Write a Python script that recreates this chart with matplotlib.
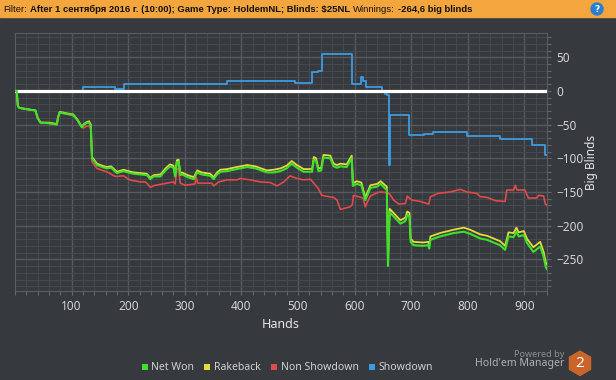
import matplotlib
matplotlib.use("Agg")
import matplotlib.pyplot as plt
from matplotlib import font_manager
from matplotlib.patches import Rectangle, RegularPolygon, Circle
from matplotlib.lines import Line2D
from matplotlib.ticker import MultipleLocator, FixedLocator

W, H = 616, 380
BG = '#36393d'
GREEN = '#3ee02c'
YELLOW = '#e3dc3a'
RED = '#e04a4a'
BLUE = '#3d9be0'
ORANGE = '#f3a63e'
FONT = 'Noto Sans'

# net won (green)
hands_net = [
    0, 3, 5, 7, 20, 36, 40, 45, 60, 74,
    76, 79, 90, 103, 110, 118, 122, 127, 131, 134,
    136, 145, 151, 162, 170, 180, 192, 200, 210, 222,
    233, 239, 245, 257, 266, 274, 280, 283, 286, 289,
    292, 295, 305, 316, 322, 330, 345, 351, 357, 363,
    375, 386, 398, 410, 425, 445, 457, 469, 480, 489,
    498, 510, 525, 528, 532, 536, 541, 545, 557, 563,
    569, 575, 586, 595, 597, 604, 612, 619, 628, 640,
    646, 654, 657, 659, 662, 672, 681, 690, 693, 697,
    699, 704, 721, 730, 732, 734, 751, 775, 793, 804,
    822, 834, 857, 866, 872, 881, 886, 890, 899, 905,
    916, 928, 934, 938, 940,
]
net_won = [
    0, 0, -22, -25, -27, -29, -40, -47, -48, -50,
    -40, -32, -34, -36, -43, -54, -50, -47, -47, -52,
    -100, -110, -112, -115, -114, -122, -119, -121, -123, -124,
    -125, -131, -127, -127, -118, -112, -114, -127, -106, -105,
    -125, -124, -128, -131, -121, -124, -126, -131, -124, -120,
    -119, -117, -115, -113, -115, -121, -121, -119, -115, -108,
    -114, -120, -120, -102, -104, -119, -118, -99, -100, -112,
    -114, -112, -113, -100, -141, -138, -140, -162, -144, -142,
    -138, -145, -147, -260, -180, -189, -197, -193, -184, -186,
    -224, -229, -230, -229, -234, -221, -216, -211, -209, -212,
    -219, -221, -229, -236, -216, -217, -209, -216, -214, -226,
    -239, -231, -246, -262, -264.6,
]
# net won + rakeback (yellow), same hands
rakeback = [
    0, 0, -22, -25, -27, -29, -40, -47, -47, -49,
    -39, -31, -33, -35, -42, -53, -49, -46, -45, -50,
    -98, -108, -110, -113, -112, -120, -117, -119, -121, -122,
    -123, -129, -125, -124, -115, -109, -111, -124, -103, -102,
    -122, -121, -125, -128, -118, -121, -123, -128, -121, -117,
    -116, -114, -112, -110, -112, -118, -117, -115, -111, -104,
    -110, -116, -116, -98, -100, -115, -114, -95, -96, -108,
    -110, -108, -109, -96, -137, -134, -136, -158, -140, -138,
    -134, -140, -142, -255, -175, -184, -192, -188, -179, -181,
    -219, -224, -225, -224, -229, -216, -211, -206, -203, -206,
    -213, -215, -223, -230, -210, -211, -203, -210, -208, -220,
    -232, -224, -239, -255, -257.6,
]

# non showdown (red)
hands_ns = [
    0, 3, 5, 7, 20, 36, 40, 45, 60, 74,
    76, 79, 90, 103, 110, 118, 122, 127, 131, 134,
    136, 145, 151, 162, 177, 192, 200, 207, 221, 230,
    233, 239, 248, 262, 280, 283, 286, 289, 292, 301,
    318, 320, 323, 348, 351, 360, 375, 392, 398, 416,
    433, 451, 463, 475, 486, 498, 510, 522, 528, 536,
    542, 554, 563, 569, 575, 592, 596, 598, 615, 619,
    622, 628, 640, 645, 657, 662, 669, 678, 690, 693,
    701, 716, 731, 734, 748, 769, 787, 798, 816, 822,
    834, 849, 866, 869, 881, 884, 887, 901, 907, 922,
    925, 934, 937, 940,
]
non_showdown = [
    0, 0, -22, -25, -27, -29, -40, -47, -48, -50,
    -40, -32, -34, -36, -43, -54, -55, -52, -52, -57,
    -105, -115, -117, -120, -127, -126, -131, -133, -135, -135,
    -137, -143, -140, -138, -135, -138, -117, -115, -137, -140,
    -138, -128, -137, -137, -141, -135, -132, -132, -130, -132,
    -135, -136, -141, -135, -126, -130, -132, -131, -137, -145,
    -155, -157, -158, -162, -176, -172, -169, -155, -159, -172,
    -166, -156, -151, -150, -151, -153, -162, -168, -167, -156,
    -162, -164, -168, -157, -152, -150, -146, -150, -152, -157,
    -158, -163, -164, -147, -147, -140, -147, -147, -159, -159,
    -155, -156, -168, -170,
]

# showdown (blue), step changes
hands_sd = [0, 121, 177, 192, 375, 495, 525, 535, 543, 595, 612, 615, 620,
            648, 654, 658, 660, 662, 697, 722, 738, 798, 857, 913, 936, 940]
showdown = [0, 5.5, 3.5, 10.4, 15, 12, 28, 30, 55, 11, 20, 15, 6.5,
            -1, -4.5, -6, -110, -36, -66, -64.5, -61, -67, -71, -81, -95, -95]

x_ticks = [100, 200, 300, 400, 500, 600, 700, 800, 900]
series_names = ['Net Won', 'Rakeback', 'Non Showdown', 'Showdown']
header_parts = [
    ("Filter:", 'normal'),
    ("After 1 сентября 2016 г. (10:00); Game Type: HoldemNL; Blinds: $25NL", 'bold'),
    ("Winnings:", 'normal'),
    ("-264,6 big blinds", 'bold'),
]

installed = {f.name for f in font_manager.fontManager.ttflist}
HFONT = 'Liberation Sans Narrow' if 'Liberation Sans Narrow' in installed else 'Liberation Sans'

fig = plt.figure(figsize=(W / 100, H / 100), dpi=100, facecolor=BG)
ax = fig.add_axes([15 / W, 1 - 291 / H, (547 - 15) / W, (291 - 33) / H])
ax.set_facecolor(BG)

ax.step(hands_sd, showdown, where='post', color=BLUE, lw=1.3, zorder=3)
ax.axhline(0, color='white', lw=2.3, zorder=4)
ax.plot(hands_ns, non_showdown, color=RED, lw=1.2, zorder=5)
ax.plot(hands_net, rakeback, color=YELLOW, lw=1.3, zorder=6)
ax.plot(hands_net, net_won, color=GREEN, lw=1.5, zorder=7)

ax.set_xlim(0, 940)
ax.set_ylim(-297, 86)
ax.xaxis.set_major_locator(FixedLocator(x_ticks))
ax.xaxis.set_minor_locator(MultipleLocator(20))
ax.yaxis.set_major_locator(MultipleLocator(50))
ax.yaxis.set_minor_locator(MultipleLocator(10))
ax.grid(which='major', color='#56595d', lw=1.0)
ax.grid(which='minor', color='#45484c', lw=0.8)
ax.set_axisbelow(True)
ax.yaxis.tick_right()
ax.tick_params(which='both', colors='#64676b', labelcolor='#d4d4d4',
               labelsize=8.5, length=3, width=0.8)
ax.tick_params(axis='y', pad=4)
ax.tick_params(axis='x', pad=3.5)
for lab in ax.get_xticklabels() + ax.get_yticklabels():
    lab.set_family(FONT)
for sp in ax.spines.values():
    sp.set_color('#5a5d61')

fig.text(592 / W, 1 - 162 / H, 'Big Blinds', rotation=90, ha='center', va='center',
         fontsize=8.5, fontweight='bold', color='#e6e6e6', family=FONT)
fig.text(281 / W, 1 - 325 / H, 'Hands', ha='center', va='center',
         fontsize=9, fontweight='bold', color='#e6e6e6', family=FONT)

# legend
handles = [Line2D([0], [0], marker='s', ls='none', markersize=4.5, color=c, mew=0)
           for c in (GREEN, YELLOW, RED, BLUE)]
fig.legend(handles, series_names, loc='center', bbox_to_anchor=(287 / W, 1 - 368 / H),
           ncol=4, frameon=False, handlelength=0.7, handletextpad=0.3,
           columnspacing=0.9, prop={'family': FONT, 'size': 7.5}, labelcolor='#d0d0d0')

# branding
fig.text(564 / W, 1 - 354.5 / H, 'Powered by', ha='right', va='center',
         fontsize=6.5, color='#8e9092', family=FONT)
fig.text(564 / W, 1 - 363.5 / H, "Hold'em Manager", ha='right', va='center',
         fontsize=7.6, color='#b0b2b4', family=FONT)
fig.patches.append(RegularPolygon((5.80, (H - 363.3) / 100), 6, radius=0.122,
                                  orientation=0, color='#c9642b',
                                  transform=fig.dpi_scale_trans))
fig.text(580 / W, 1 - 363.3 / H, '2', ha='center', va='center', fontsize=11,
         fontweight='bold', color='white', family=FONT)

# header bar
fig.patches.append(Rectangle((0, (H - 17) / 100), W / 100, 0.17, color=ORANGE,
                             transform=fig.dpi_scale_trans))
fig.patches.append(Circle((5.97, (H - 9) / 100), 0.06, color='#2a7fd4',
                          transform=fig.dpi_scale_trans))
fig.text(597 / W, 1 - 9 / H, '?', ha='center', va='center', fontsize=6.5,
         fontweight='bold', color='white')

renderer = fig.canvas.get_renderer()


def draw_header(size):
    x = 3
    made = []
    for s, w in header_parts:
        t = fig.text(x / W, 1 - 11.8 / H, s, fontsize=size, fontweight=w,
                     family=HFONT, va='baseline', color='#111111')
        bb = t.get_window_extent(renderer)
        x = bb.x1 + 3
        made.append(t)
    return made, x - 3


tmp, end = draw_header(8)
for t in tmp:
    t.remove()
draw_header(min(8.2, 8 * (473 - 3 - 9) / (end - 3 - 9)))

fig.savefig('out.png', dpi=100, facecolor=BG)
